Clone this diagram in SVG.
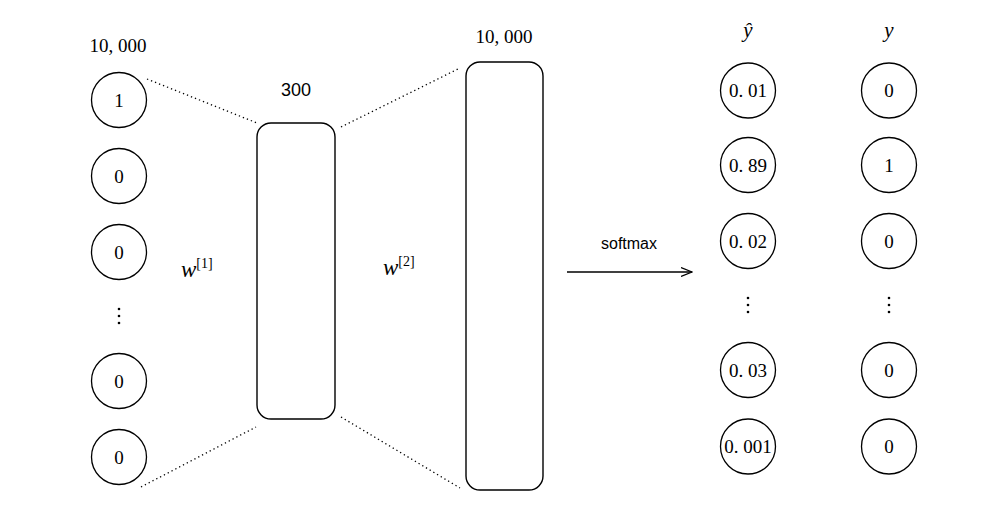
<svg xmlns="http://www.w3.org/2000/svg" width="1000" height="518" viewBox="0 0 1000 518">
<defs>
<style>
.c{fill:#fff;stroke:#000;stroke-width:1.3}
.r{fill:#fff;stroke:#000;stroke-width:1.4}
.t{font-family:"Liberation Serif","DejaVu Serif",serif;font-size:19px;fill:#000;text-anchor:middle}
.s{font-family:"Liberation Sans",Arial,sans-serif;font-size:16px;fill:#000;text-anchor:middle}
.m{font-family:"Liberation Serif","DejaVu Serif",serif;font-style:italic;font-size:23px;fill:#000}
.sup{font-family:"Liberation Serif","DejaVu Serif",serif;font-size:14px;fill:#000}
.d{stroke:#000;stroke-width:1.3;stroke-dasharray:1.3 3;fill:none}
.e{fill:#000}
</style>
<marker id="ah" viewBox="0 0 12 10" refX="11" refY="5" markerWidth="12" markerHeight="10" markerUnits="userSpaceOnUse" orient="auto">
<path d="M0,0.5 L11,5 L0,9.5" fill="none" stroke="#000" stroke-width="1.2"/>
</marker>
</defs>
<rect width="1000" height="518" fill="#fff"/>
<g id="connectors">
<line class="d" x1="147" y1="79" x2="257" y2="123"/>
<line class="d" x1="141" y1="487" x2="256" y2="427"/>
<line class="d" x1="341" y1="127" x2="458" y2="69"/>
<line class="d" x1="341" y1="417" x2="460" y2="488"/>
<line x1="567" y1="272" x2="692" y2="272" stroke="#000" stroke-width="1.3" marker-end="url(#ah)"/>
<text class="s" x="629" y="249">softmax</text>
</g>
<g id="labels">
<text class="t" x="118" y="52">10, 000</text>
<text class="s" x="296" y="96" style="font-size:18px">300</text>
<text class="t" x="504" y="43">10, 000</text>
<text class="m" x="181" y="277">w<tspan class="sup" dy="-9" font-style="normal">[1]</tspan></text>
<text class="m" x="383" y="275">w<tspan class="sup" dy="-9" font-style="normal">[2]</tspan></text>
<text class="m" x="748" y="37" text-anchor="middle" style="font-size:21px">ŷ</text>
<text class="m" x="889" y="37" text-anchor="middle" style="font-size:21px">y</text>
</g>
<g id="input">
<g id="in1"><circle class="c" cx="119" cy="100" r="27.5"/><text class="t" x="119" y="106.5">1</text></g>
<g id="in2"><circle class="c" cx="119" cy="176" r="27.5"/><text class="t" x="119" y="182.5">0</text></g>
<g id="in3"><circle class="c" cx="119" cy="252" r="27.5"/><text class="t" x="119" y="258.5">0</text></g>
<g id="in-dots"><circle class="e" cx="119" cy="309" r="1.3"/><circle class="e" cx="119" cy="316" r="1.3"/><circle class="e" cx="119" cy="323" r="1.3"/></g>
<g id="in4"><circle class="c" cx="119" cy="381" r="27.5"/><text class="t" x="119" y="387.5">0</text></g>
<g id="in5"><circle class="c" cx="119" cy="457" r="27.5"/><text class="t" x="119" y="463.5">0</text></g>
</g>
<g id="hidden"><rect class="r" x="257" y="123" width="78" height="296" rx="14"/></g>
<g id="output"><rect class="r" x="466" y="62" width="77" height="428" rx="14"/></g>
<g id="yhat">
<g id="yh1"><circle class="c" cx="748" cy="90.5" r="27.5"/><text class="t" x="748" y="97">0. 01</text></g>
<g id="yh2"><circle class="c" cx="748" cy="165" r="27.5"/><text class="t" x="748" y="171.5">0. 89</text></g>
<g id="yh3"><circle class="c" cx="748" cy="241" r="27.5"/><text class="t" x="748" y="247.5">0. 02</text></g>
<g id="yh-dots"><circle class="e" cx="748" cy="298" r="1.3"/><circle class="e" cx="748" cy="305" r="1.3"/><circle class="e" cx="748" cy="312" r="1.3"/></g>
<g id="yh4"><circle class="c" cx="748" cy="370" r="27.5"/><text class="t" x="748" y="376.5">0. 03</text></g>
<g id="yh5"><circle class="c" cx="748" cy="446.5" r="27.5"/><text class="t" x="748" y="453">0. 001</text></g>
</g>
<g id="y">
<g id="y1"><circle class="c" cx="889" cy="90.5" r="27.5"/><text class="t" x="889" y="97">0</text></g>
<g id="y2"><circle class="c" cx="889" cy="165" r="27.5"/><text class="t" x="889" y="171.5">1</text></g>
<g id="y3"><circle class="c" cx="889" cy="241" r="27.5"/><text class="t" x="889" y="247.5">0</text></g>
<g id="y-dots"><circle class="e" cx="889" cy="298" r="1.3"/><circle class="e" cx="889" cy="305" r="1.3"/><circle class="e" cx="889" cy="312" r="1.3"/></g>
<g id="y4"><circle class="c" cx="889" cy="370" r="27.5"/><text class="t" x="889" y="376.5">0</text></g>
<g id="y5"><circle class="c" cx="889" cy="446.5" r="27.5"/><text class="t" x="889" y="453">0</text></g>
</g>
</svg>
